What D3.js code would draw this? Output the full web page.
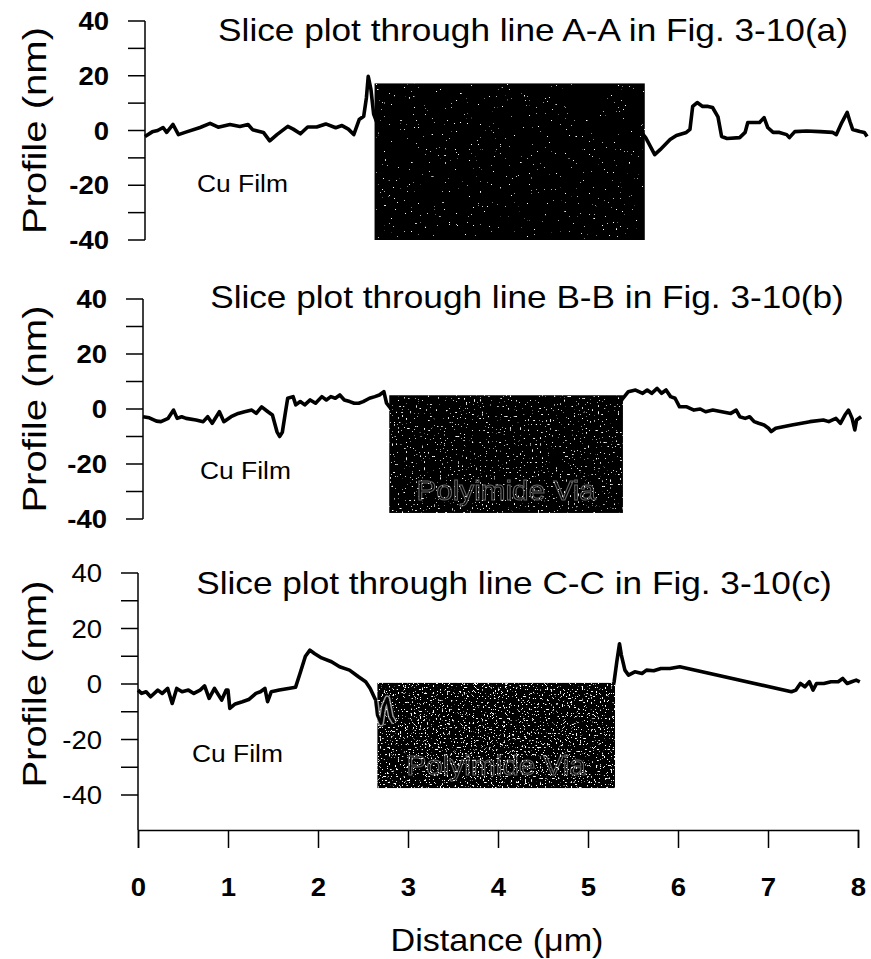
<!DOCTYPE html>
<html lang='en'>
<head>
<meta charset='utf-8'>
<title>Slice plots</title>
<script src='https://cdn.jsdelivr.net/npm/d3@7'></script>
<style>
  body { margin: 0; background: #fff; }
  text { font-family: 'Liberation Sans', Arial, sans-serif; }
</style>
</head>
<body>
<script>
// distance (um), profile (nm)
var sliceA = [[0,-2.2],[0.08,-0.5],[0.14,0],[0.2,1.1],[0.24,-0.7],[0.31,2.2],[0.37,-1.5],[0.46,-0.5],[0.61,1.1],[0.72,2.6],
  [0.81,1.2],[0.94,2.2],[1.05,1.5],[1.14,2.2],[1.19,0.3],[1.31,-0.7],[1.38,-3.8],[1.46,-1.5],[1.58,1.5],[1.64,0.5],
  [1.72,-1.2],[1.8,1.3],[1.9,1.3],[2.0,2.4],[2.11,1.0],[2.18,1.8],[2.25,0.5],[2.31,-1.5],[2.37,4],[2.42,5.2],
  [2.45,12],[2.47,19.8],[2.5,15],[2.53,6],[2.6,0],[4.0,0],[5.5,-1],[5.54,-2.6],[5.64,-8.8],[5.7,-7],
  [5.81,-3.3],[5.88,-1.8],[5.99,-0.7],[6.03,0.4],[6.06,8.8],[6.11,10.2],[6.17,8.8],[6.23,8.8],[6.28,8.4],[6.34,5],
  [6.38,-2.2],[6.44,-2.9],[6.58,-2.6],[6.64,-0.7],[6.67,2.9],[6.73,2.9],[6.8,2.9],[6.85,4.7],[6.89,1.1],[6.95,-0.7],
  [7.02,-0.7],[7.1,-1.5],[7.13,-2.6],[7.19,-0.4],[7.32,-0.2],[7.47,-0.4],[7.61,-0.7],[7.65,-1.5],[7.71,2.9],[7.77,6.6],
  [7.8,3.3],[7.83,0.4],[7.91,-0.4],[7.96,-0.7],[7.99,-2.2]];

var sliceB = [[0,-2.8],[0.07,-3.2],[0.15,-4.4],[0.2,-4.6],[0.28,-3.4],[0.34,-0.4],[0.38,-3.4],[0.43,-2.8],[0.48,-3.4],[0.59,-4],
  [0.67,-4.6],[0.72,-2.8],[0.77,-5.2],[0.85,-1],[0.9,-4.6],[0.98,-2.8],[1.06,-1.6],[1.13,-1],[1.21,-0.4],[1.26,-1.6],
  [1.32,0.8],[1.39,-1],[1.44,-2.2],[1.49,-8.2],[1.52,-10],[1.55,-8.5],[1.58,-2.2],[1.61,3.9],[1.67,4.5],[1.7,1.5],
  [1.75,2.7],[1.8,1.5],[1.86,3.3],[1.92,2.1],[1.99,4.5],[2.04,3.3],[2.09,4.5],[2.14,3.9],[2.19,5.1],[2.24,3.3],
  [2.3,2.7],[2.35,2.1],[2.4,2.1],[2.45,2.7],[2.52,3.9],[2.58,4.5],[2.63,5.1],[2.68,6.3],[2.71,2.1],[2.76,0],
  [4.0,0],[5.3,2],[5.34,3.9],[5.4,6.3],[5.48,6.9],[5.56,5.7],[5.61,6.9],[5.66,5.7],[5.72,7.5],[5.77,5.7],
  [5.82,6.9],[5.87,4.5],[5.92,3.9],[5.97,0.8],[6.05,0.8],[6.13,-0.4],[6.2,0],[6.26,-1],[6.34,-0.4],[6.44,-1],
  [6.54,-1.6],[6.6,-0.4],[6.64,-2.8],[6.7,-3.4],[6.75,-2.8],[6.8,-4.6],[6.85,-5.2],[6.91,-5.8],[6.96,-7],[6.99,-8.2],
  [7.04,-7],[7.22,-5.8],[7.42,-4.6],[7.57,-4],[7.63,-4.6],[7.71,-3.4],[7.76,-5.2],[7.81,-2.2],[7.85,-0.4],[7.89,-3.4],
  [7.92,-7.6],[7.94,-4],[7.99,-2.8]];

var sliceC = [[0,-2.2],[0.04,-3.4],[0.09,-2.8],[0.14,-4.6],[0.22,-2.2],[0.27,-3.4],[0.33,-1.6],[0.38,-7],[0.43,-1.6],[0.49,-2.8],
  [0.56,-2.2],[0.62,-3.4],[0.69,-2.2],[0.74,-0.7],[0.79,-5.2],[0.85,-1.6],[0.93,-5.8],[0.98,-2.2],[1.0,-2.2],[1.02,-8.8],
  [1.08,-7.2],[1.16,-6.4],[1.23,-5.6],[1.31,-3.4],[1.36,-2.8],[1.41,-1.6],[1.44,-6.4],[1.48,-2.8],[1.57,-2.2],[1.67,-1.6],
  [1.75,-1.2],[1.8,3.8],[1.86,10],[1.91,12.2],[1.96,11],[2.04,9.4],[2.15,8],[2.24,6.2],[2.35,5],[2.45,2.6],
  [2.53,0.8],[2.58,-1.6],[2.64,-5.8],[2.66,-11.2],[2.7,-14.2],[2.73,-8.2],[2.77,-5.2],[2.81,-11.8],[2.85,-14],[2.95,-12],
  [4.0,-10],[5.25,-5],[5.29,0.8],[5.32,8],[5.35,14.5],[5.37,10.5],[5.41,5],[5.45,3.2],[5.52,4.4],[5.6,3.8],
  [5.65,5],[5.73,4.8],[5.81,5.6],[5.91,5.6],[6.02,6.2],[7.26,-2.8],[7.31,-2.2],[7.36,0.2],[7.41,-1],[7.46,0.8],
  [7.5,-2.2],[7.54,0.2],[7.62,0.2],[7.7,0.8],[7.78,0.8],[7.83,2],[7.88,0.2],[7.93,0.8],[7.98,1.4],[8.02,0.8]];

// polyimide via region: [x from, x to, profile bottom, profile top]
var viaA = [2.54, 5.53, -40, 17.2];
var viaB = [2.74, 5.34, -37.8, 5];
var viaC = [2.66, 5.3, -37.5, 0.4];

var titles = ['Slice plot through line A-A in Fig. 3-10(a)',
              'Slice plot through line B-B in Fig. 3-10(b)',
              'Slice plot through line C-C in Fig. 3-10(c)'];
var xTicks = [0, 1, 2, 3, 4, 5, 6, 7, 8];
var yLabelTicks = [40, 20, 0, -20, -40];
var yMinorTicks = [40, 30, 20, 10, 0, -10, -20, -30, -40];

var width = 871, height = 959;
var stretch = 1.1;   // the scanned lettering is a bit wider than Arial
var svg = d3.select('body').append('svg').attr('width', width).attr('height', height);

// speckled texture for the via image
var defs = svg.append('defs');
function speckle(id, freq, cut) {
	var f = defs.append('filter').attr('id', id).attr('x', 0).attr('y', 0).attr('width', 1).attr('height', 1);
	f.append('feTurbulence').attr('type', 'fractalNoise').attr('baseFrequency', freq).attr('numOctaves', 2).attr('seed', 7).attr('result', 'n');
	f.append('feColorMatrix').attr('in', 'n').attr('type', 'matrix')
		.attr('values', '0 0 0 0 1  0 0 0 0 1  0 0 0 0 1  0 0 0 16 ' + cut).attr('result', 'w');
	f.append('feComposite').attr('in', 'w').attr('in2', 'SourceAlpha').attr('operator', 'in').attr('result', 'ws');
	var m = f.append('feMerge');
	m.append('feMergeNode').attr('in', 'SourceGraphic');
	m.append('feMergeNode').attr('in', 'ws');
}
speckle('spA', 0.45, -12.2);
speckle('spB', 0.5, -11.2);
speckle('spC', 0.55, -10.4);

function label(g, x, y, str, size, anchor, bold) {
	return g.append('text').attr('transform', 'translate(' + x + ',' + y + ')scale(' + stretch + ',1)')
		.attr('text-anchor', anchor).attr('font-size', size).attr('font-weight', bold ? 'bold' : 'normal')
		.text(str);
}

var panels = [
	{data: sliceA, via: viaA, title: titles[0], x0: 145, x1: 868, yTop: 21, yBot: 240, yMin: -40, bold: true,
	 titleX: 533, titleY: 41, cuX: 197, cuY: 192, spk: 'spA', viaText: false},
	{data: sliceB, via: viaB, title: titles[1], x0: 143, x1: 862, yTop: 299, yBot: 519, yMin: -40, bold: true,
	 titleX: 527, titleY: 308, cuX: 200, cuY: 479, spk: 'spB', viaText: true},
	{data: sliceC, via: viaC, title: titles[2], x0: 138, x1: 858, yTop: 573, yBot: 795, yMin: -52.6, bold: false,
	 titleX: 514, titleY: 594, cuX: 192, cuY: 762, spk: 'spC', viaText: true}
];

panels.forEach(function(p, i) {
	var x = d3.scaleLinear().domain([0, 8]).range([p.x0, p.x1]);
	var y = d3.scaleLinear().domain([-40, 40]).range([p.yBot, p.yTop]);
	var g = svg.append('g');

	// y axis line and ticks
	g.append('line').attr('x1', p.x0).attr('x2', p.x0).attr('y1', p.yTop).attr('y2', y(p.yMin))
		.attr('stroke', '#000').attr('stroke-width', 1.5);
	g.selectAll('.tk').data(yMinorTicks).enter().append('line')
		.attr('x1', p.x0 - 17).attr('x2', p.x0).attr('y1', d => y(d)).attr('y2', d => y(d))
		.attr('stroke', '#000').attr('stroke-width', 1.5);
	yLabelTicks.forEach(function(t) {
		label(g, p.x0 - 36, y(t) + 9, t, 25, 'end', p.bold);
	});

	g.append('text').attr('transform', 'translate(46,' + ((p.yTop + p.yBot) / 2) + ')rotate(-90)scale(1.18,1)')
		.attr('text-anchor', 'middle').attr('font-size', 34).text('Profile (nm)');

	label(g, p.titleX, p.titleY, p.title, 32, 'middle', false);
	label(g, p.cuX, p.cuY, 'Cu Film', 24, 'start', false);

	var line = d3.line().x(d => x(d[0])).y(d => y(d[1]));
	g.append('path').datum(p.data).attr('d', line).attr('fill', 'none')
		.attr('stroke', '#000').attr('stroke-width', 3.6).attr('stroke-linejoin', 'round');

	g.append('rect').attr('x', x(p.via[0])).attr('width', x(p.via[1]) - x(p.via[0]))
		.attr('y', y(p.via[3])).attr('height', y(p.via[2]) - y(p.via[3]))
		.attr('fill', '#050505').attr('filter', 'url(#' + p.spk + ')');

	if (p.viaText) {
		label(g, x((p.via[0] + p.via[1]) / 2), y(p.via[2]) - 13, 'Polyimide Via', 27, 'middle', false)
			.attr('fill', 'none').attr('stroke', '#ddd').attr('stroke-width', 1).attr('opacity', 0.45);
	}

	if (i == 2) {
		// the profile stays visible where it dips into the via edge
		var edge = p.data.filter(d => d[0] >= 2.64 && d[0] <= 2.9);
		g.append('path').datum(edge).attr('d', line).attr('fill', 'none')
			.attr('stroke', '#fff').attr('stroke-width', 6).attr('opacity', 0.6).attr('stroke-linejoin', 'round');
		g.append('path').datum(edge).attr('d', line).attr('fill', 'none')
			.attr('stroke', '#000').attr('stroke-width', 3).attr('stroke-linejoin', 'round');

		var xa = d3.axisBottom(x).tickValues(xTicks).tickSize(18).tickPadding(30).tickFormat(d3.format('d'));
		var ax = g.append('g').attr('transform', 'translate(0,' + y(p.yMin) + ')').call(xa);
		ax.select('.domain').attr('stroke-width', 1.5);
		ax.selectAll('.tick line').attr('stroke-width', 1.5);
		ax.selectAll('text').attr('font-size', 25).attr('font-weight', 'bold').attr('fill', '#000')
			.attr('transform', 'scale(' + stretch + ',1)')
			.attr('font-family', "'Liberation Sans', Arial, sans-serif");
		label(g, 497, 951, 'Distance (\u03bcm)', 31, 'middle', false);
	}
});
</script>
</body>
</html>
